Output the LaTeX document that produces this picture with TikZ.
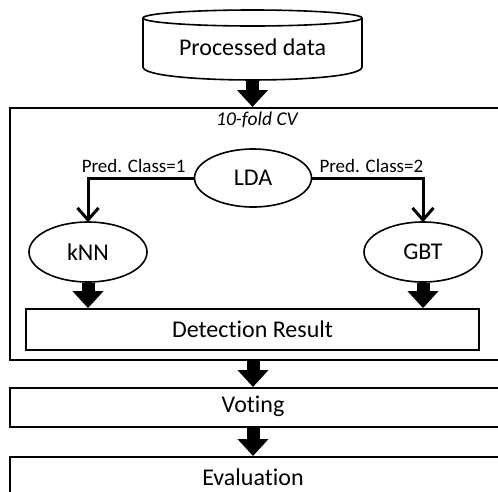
\documentclass[tikz,border=0pt]{standalone}
\usepackage{fontspec}
\setmainfont{Carlito}[Ligatures={NoCommon}]
\usetikzlibrary{arrows.meta,shapes.geometric,calc}
\begin{document}
\begin{tikzpicture}[x=1pt,y=-1pt,
  big/.style={font=\fontsize{24}{28}\selectfont},
  small/.style={font=\fontsize{19}{22}\selectfont},
  boxline/.style={draw=black,line width=1.8pt},
  oval/.style={ellipse,draw=black,line width=1.6pt,inner sep=0pt,font=\fontsize{24}{28}\selectfont},
  fat/.style={line width=13pt,-{Triangle[length=17pt,width=30pt]}},
  thin/.style={line width=3pt,-{Straight Barb[length=12pt,width=21pt,line width=3pt]}}]
\useasboundingbox (0,0) rectangle (498,491);
\clip (0,0) rectangle (498,491);
% cylinder
\draw[line width=1.6pt] (143,18) -- (143,67) .. controls (143,84.3) and (362,84.3) .. (362,67) -- (362,18);
\draw[line width=1.6pt] (252.5,18) ellipse[x radius=109.5,y radius=8];
\node[big,minimum width=219pt,minimum height=56pt,inner sep=0pt] (pd) at (252.5,52) {};
\node[big] (pdt) at (252.5,47) {Processed data};
% outer CV box
\node[boxline,anchor=north west,minimum width=501pt,minimum height=252pt,inner sep=0pt] (cv) at (9,107) {};
\node[font=\fontsize{19.5}{22}\selectfont\itshape] (cvl) at (257,120) {10-fold CV};
% LDA
\node[oval,minimum width=117pt,minimum height=58pt] (lda) at (253,178) {LDA};
\node[oval,minimum width=118pt,minimum height=60pt] (knn) at (88,252) {kNN};
\node[oval,minimum width=118pt,minimum height=60pt] (gbt) at (423,252) {GBT};
\node[small,anchor=east] (l1) at (189,166) {Pred. Class=1};
\node[small,anchor=west] (l2) at (316,166) {Pred. Class=2};
\draw[thin] (lda.west) -| ([yshift=-1pt]knn.north);
\draw[thin] (lda.east) -| ([yshift=-1pt]gbt.north);
% detection
\node[boxline,minimum width=453pt,minimum height=41pt,inner sep=0pt,big] (det) at (252.5,329.5) {Detection Result};
\draw[fat] (knn.south) -- (knn.south |- det.north);
\draw[fat] (gbt.south) -- (gbt.south |- det.north);
% voting / evaluation
\node[boxline,anchor=north west,minimum width=501pt,minimum height=39pt,inner sep=0pt] (vot) at (9,387) {};
\node[big] (vott) at (253,406) {Voting};
\node[boxline,anchor=north west,minimum width=501pt,minimum height=50pt,inner sep=0pt] (eva) at (9,456) {};
\node[big] (evat) at (253,477) {Evaluation};
\draw[fat] (pd.south) -- (pd.south |- cv.north);
\draw[fat] (253,359) -- (253,387);
\draw[fat] (253,426) -- (253,456);
\end{tikzpicture}
\end{document}
